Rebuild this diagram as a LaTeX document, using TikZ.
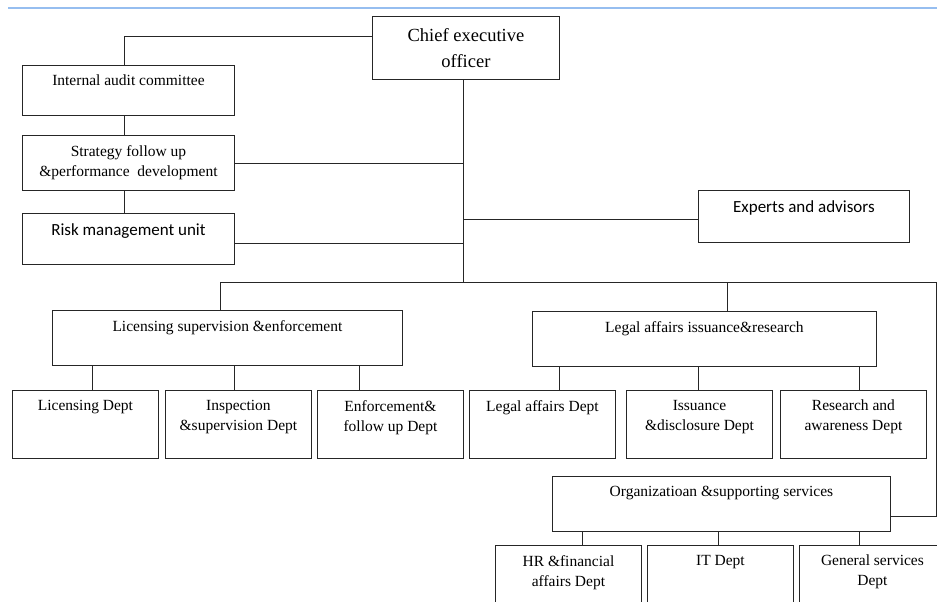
\documentclass[tikz,border=0pt]{standalone}
\usepackage{fontspec}
\setmainfont{Liberation Serif}
\newfontfamily\calib{Carlito}
\begin{document}
\begin{tikzpicture}[x=1pt,y=-1pt,
  box/.style={draw=black!85, line width=0.9pt, anchor=north west, inner sep=0pt},
  conn/.style={draw=black!85, line width=0.9pt},
  txt/.style={font=\fontsize{15.5}{20}\selectfont},
  stxt/.style={font=\calib\fontsize{17}{20}\selectfont},
  tl/.style={label={[anchor=north, inner sep=0pt, yshift=-10pt, align=center, txt]north:#1}},
  sl/.style={label={[anchor=north, inner sep=0pt, yshift=-10pt, align=center, stxt]north:#1}}
]
\clip (0,0) rectangle (937,602);
\useasboundingbox (0,0) rectangle (937,602);
\fill[white] (0,0) rectangle (937,602);
\draw[color={rgb,255:red,150;green,190;blue,240}, line width=1.5pt] (8,8) -- (937,8);

% boxes
\node[box, minimum width=187, minimum height=63, label={[anchor=north, inner sep=0pt, yshift=-12pt, align=center, font=\fontsize{18.5}{26}\selectfont]north:Chief executive\\officer}] (ceo) at (372,16) {};
\node[box, minimum width=212, minimum height=50, tl={Internal audit committee}] (audit) at (22,65) {};
\node[box, minimum width=212, minimum height=55, tl={Strategy follow up\\\&performance\ \ development}] (strat) at (22,135) {};
\node[box, minimum width=212, minimum height=51, sl={Risk management unit}] (risk) at (22,213) {};
\node[box, minimum width=211, minimum height=52, sl={Experts and advisors}] (exp) at (698,190) {};

\node[box, minimum width=350, minimum height=55, tl={Licensing supervision \&enforcement}] (lic) at (52,310) {};
\node[box, minimum width=344, minimum height=55, tl={Legal affairs issuance\&research}] (legal) at (532,311) {};

\node[box, minimum width=146, minimum height=68, tl={Licensing Dept}] (licd) at (12,390) {};
\node[box, minimum width=146, minimum height=68, tl={Inspection\\\&supervision Dept}] (insp) at (165,390) {};
\node[box, minimum width=146, minimum height=68, tl={Enforcement\&\\follow up Dept}] (enf) at (317,390) {};
\node[box, minimum width=146, minimum height=68, tl={Legal affairs Dept}] (legd) at (469,390) {};
\node[box, minimum width=146, minimum height=68, tl={Issuance\\\&disclosure Dept}] (iss) at (626,390) {};
\node[box, minimum width=146, minimum height=68, tl={Research and\\awareness Dept}] (res) at (780,390) {};

\node[box, minimum width=338, minimum height=55, tl={Organizatioan \&supporting services}] (org) at (552,476) {};
\node[box, minimum width=146, minimum height=70, tl={HR \&financial\\affairs Dept}] (hr) at (495,545) {};
\node[box, minimum width=146, minimum height=70, tl={IT Dept}] (it) at (647,545) {};
\node[box, minimum width=146, minimum height=70, tl={General services\\Dept}] (gen) at (799,545) {};

\coordinate (bus) at (463,282);
\coordinate (busR) at (936,282);

% connectors
\draw[conn] ([yshift=-20]ceo.north west) -| ([xshift=-4]audit.north);
\draw[conn] ([xshift=-4]audit.south) -- ([xshift=-4]strat.north);
\draw[conn] ([xshift=-4]strat.south) -- ([xshift=-4]risk.north);
\draw[conn] (ceo.south -| bus) -- (bus);
\draw[conn] (strat.east) -- (strat.east -| bus);
\draw[conn] ([yshift=-4]risk.east) -- ([yshift=-4]risk.east -| bus);
\draw[conn] ([yshift=-3]exp.west) -- ([yshift=-3]exp.west -| bus);
\draw[conn] ([xshift=-7]lic.north) |- (busR) |- ([yshift=-12]org.east);
\draw[conn] ([xshift=23]legal.north) -- ([xshift=23]legal.north |- bus);

\draw[conn] ([xshift=-135]lic.south) -- ([xshift=-135]lic.south |- licd.north);
\draw[conn] ([xshift=7]lic.south) -- ([xshift=7]lic.south |- insp.north);
\draw[conn] ([xshift=132]lic.south) -- ([xshift=132]lic.south |- enf.north);
\draw[conn] ([xshift=-145]legal.south) -- ([xshift=-145]legal.south |- legd.north);
\draw[conn] ([xshift=-6]legal.south) -- ([xshift=-6]legal.south |- iss.north);
\draw[conn] ([xshift=155]legal.south) -- ([xshift=155]legal.south |- res.north);
\draw[conn] ([xshift=-139]org.south) -- ([xshift=-139]org.south |- hr.north);
\draw[conn] ([xshift=-3]org.south) -- ([xshift=-3]org.south |- it.north);
\draw[conn] ([xshift=138]org.south) -- ([xshift=138]org.south |- gen.north);
\end{tikzpicture}
\end{document}
